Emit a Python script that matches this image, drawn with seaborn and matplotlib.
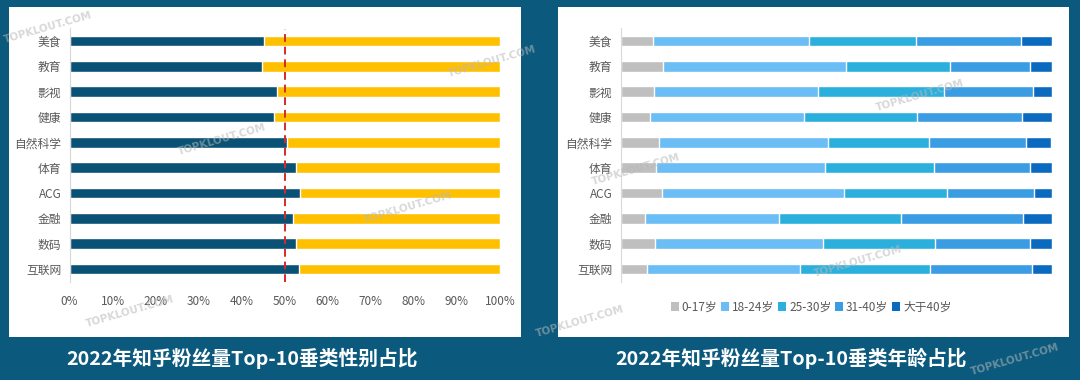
import matplotlib
matplotlib.use("Agg")
import matplotlib.pyplot as plt
import matplotlib.patches as mpatches
from matplotlib.ticker import PercentFormatter
import seaborn as sns
import pandas as pd
import numpy as np

# ---------------- data ----------------
categories = ["美食", "教育", "影视", "健康", "自然科学", "体育", "ACG", "金融", "数码", "互联网"]
male_share = [0.452, 0.447, 0.483, 0.475, 0.506, 0.525, 0.535, 0.519, 0.526, 0.532]
x_ticks = [0, 0.1, 0.2, 0.3, 0.4, 0.5, 0.6, 0.7, 0.8, 0.9, 1.0]

age_groups = ["0-17岁", "18-24岁", "25-30岁", "31-40岁", "大于40岁"]
age_0_17 = [0.075, 0.099, 0.078, 0.069, 0.088, 0.081, 0.095, 0.057, 0.080, 0.061]
age_18_24 = [0.362, 0.424, 0.380, 0.356, 0.394, 0.393, 0.422, 0.310, 0.390, 0.354]
age_25_30 = [0.249, 0.240, 0.293, 0.262, 0.234, 0.254, 0.241, 0.284, 0.260, 0.303]
age_31_40 = [0.243, 0.187, 0.205, 0.243, 0.225, 0.222, 0.200, 0.282, 0.219, 0.235]
age_40p = [0.071, 0.051, 0.044, 0.070, 0.058, 0.050, 0.042, 0.067, 0.051, 0.047]

title_left = "2022年知乎粉丝量Top-10垂类性别占比"
title_right = "2022年知乎粉丝量Top-10垂类年龄占比"

# ---------------- style ----------------
sns.set_theme(style="white")
plt.rcParams["font.family"] = ["Noto Sans CJK SC", "DejaVu Sans"]

BG = "#0B5A7E"
MALE = "#0A5275"
FEMALE = "#FFC000"
AGE_COLORS = ["#BFBFBF", "#6BBDF5", "#2BB0DE", "#3A9CE3", "#0A6ABF"]
TXT = "#595959"

W, H = 1080, 380
fig = plt.figure(figsize=(W / 100, H / 100), dpi=100)
fig.patch.set_facecolor(BG)

def px_rect(x0, y0, x1, y1):
    return [x0 / W, 1 - y1 / H, (x1 - x0) / W, (y1 - y0) / H]

# white panels
for (x0, x1) in [(9, 521), (558, 1069)]:
    r = px_rect(x0, 7, x1, 337)
    fig.add_artist(mpatches.Rectangle((r[0], r[1]), r[2], r[3], transform=fig.transFigure,
                                      facecolor="white", edgecolor="none", zorder=0))

ax1 = fig.add_axes(px_rect(69.6, 28.5, 500, 281.5))
ax2 = fig.add_axes(px_rect(620.6, 28.5, 1052.2, 281.5))
for ax in (ax1, ax2):
    ax.set_facecolor("none")

# ---------------- left chart: gender ----------------
df_g = pd.DataFrame({"cat": categories, "male": male_share, "total": [1.0] * len(categories)})
sns.barplot(data=df_g, y="cat", x="total", color=FEMALE, orient="h", width=0.42,
            saturation=1, ax=ax1)
sns.barplot(data=df_g, y="cat", x="male", color=MALE, orient="h", width=0.42,
            saturation=1, ax=ax1)
ax1.axvline(0.5, color="#D42A2A", linestyle=(0, (4, 2.5)), linewidth=1.4, zorder=5)
ax1.set_xlim(0, 1.0)
ax1.set_xticks(x_ticks)
ax1.xaxis.set_major_formatter(PercentFormatter(1.0, decimals=0))
ax1.set_ylim(len(categories) - 0.5, -0.5)

# ---------------- right chart: age ----------------
age_series = [age_0_17, age_18_24, age_25_30, age_31_40, age_40p]
df_a = pd.DataFrame({"cat": categories})
cum = np.zeros(len(categories))
cums = []
for s in age_series:
    cum = cum + np.array(s)
    cums.append(cum.copy())
for i in range(len(age_series) - 1, -1, -1):
    df_a["v"] = cums[i]
    sns.barplot(data=df_a, y="cat", x="v", color=AGE_COLORS[i], orient="h", width=0.42,
                saturation=1, ax=ax2)
ax2.set_xlim(0, cums[-1].max())
ax2.set_xticks([])
ax2.set_ylim(len(categories) - 0.5, -0.5)

handles = [mpatches.Patch(facecolor=c, edgecolor="none") for c in AGE_COLORS]
fig.legend(handles, age_groups, loc="center", bbox_to_anchor=(811 / W, 1 - 307 / H),
           ncol=5, frameon=False, fontsize=8.5, handlelength=0.7, handleheight=0.7,
           handletextpad=0.25, columnspacing=0.3, labelcolor=TXT)

for ax in (ax1, ax2):
    ax.set_xlabel("")
    ax.set_ylabel("")
    for s in ["top", "right", "bottom"]:
        ax.spines[s].set_visible(False)
    ax.spines["left"].set_color("#D9D9D9")
    ax.spines["left"].set_linewidth(0.8)
    ax.tick_params(axis="both", length=0, labelsize=8.5, colors=TXT, pad=6)
    ax.tick_params(axis="x", pad=10)

# ---------------- titles ----------------
fig.text(242 / W, 1 - 358 / H, title_left, color="white", fontsize=14.2, fontweight="bold",
         ha="center", va="center")
fig.text(791 / W, 1 - 358 / H, title_right, color="white", fontsize=14.2, fontweight="bold",
         ha="center", va="center")

# ---------------- watermarks ----------------
marks = [(48, 28), (492, 62), (222, 140), (408, 208), (130, 312),
         (920, 96), (636, 170), (858, 262), (580, 322), (1015, 360)]
for (x, y) in marks:
    fig.text(x / W, 1 - y / H, "TOPKLOUT.COM", color="#B8B8B8", alpha=0.55, fontsize=7.5,
             fontweight="bold", rotation=16, ha="center", va="center",
             family=["DejaVu Sans"], zorder=10)

fig.savefig("out.png", dpi=100, facecolor=BG)
